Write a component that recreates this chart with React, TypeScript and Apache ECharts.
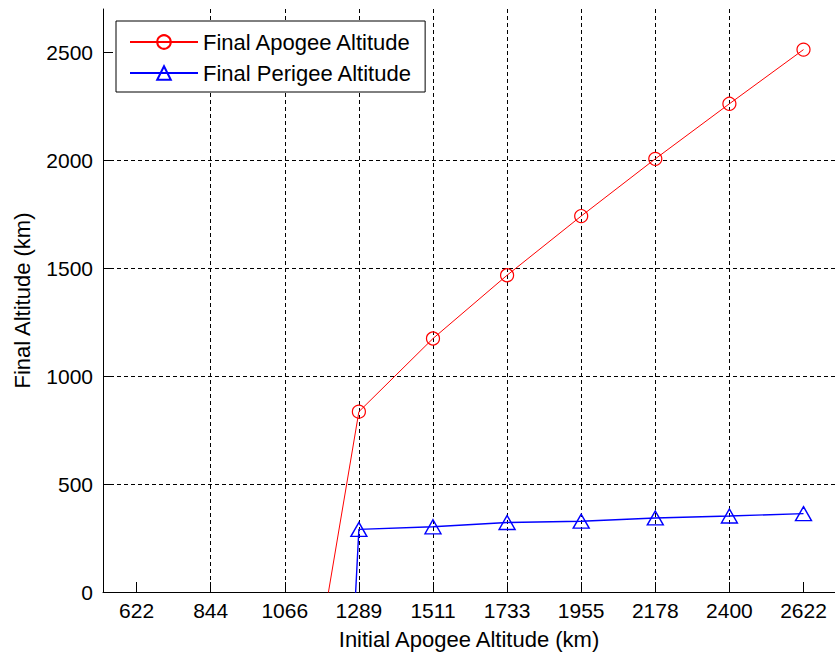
import React, { useEffect, useRef } from "react";
import * as echarts from "echarts";

const categories = ["622", "844", "1066", "1289", "1511", "1733", "1955", "2178", "2400", "2622"];
const apogeeValues: (number | null)[] = [null, null, -1200, 835, 1174, 1467, 1741, 2006, 2261, 2512];
const perigeeValues: (number | null)[] = [null, null, -6378, 290, 302, 322, 328, 343, 352, 363];
const yTickValues = [0, 500, 1000, 1500, 2000, 2500];
const seriesNames = ["Final Apogee Altitude", "Final Perigee Altitude"];

const FONT = "'Liberation Sans', Arial, Helvetica, sans-serif";

function toPoints(vals: (number | null)[]) {
  const pts: [number, number][] = [];
  vals.forEach((v, i) => {
    if (v !== null) pts.push([i + 1, v]);
  });
  return pts;
}

export default function App() {
  const ref = useRef<HTMLDivElement>(null);
  useEffect(() => {
    if (!ref.current) return;
    const chart = echarts.init(ref.current, undefined, { renderer: "svg" });
    const xIdx = categories.map((_, i) => i + 1);
    const option: any = {
      animation: false,
      backgroundColor: "#fff",
      textStyle: { fontFamily: FONT },
      grid: { left: 103, top: 9, width: 737, height: 583, containLabel: false },
      legend: {
        data: seriesNames,
        orient: "vertical",
        left: 116,
        top: 21,
        backgroundColor: "#fff",
        borderColor: "#000",
        borderWidth: 1,
        borderRadius: 0,
        padding: [9, 13, 7, 13],
        itemGap: 7,
        itemWidth: 68,
        itemHeight: 17,
        selectedMode: false,
        textStyle: { fontSize: 22, fontFamily: FONT, color: "#000", lineHeight: 24 },
      },
      xAxis: {
        type: "value",
        min: 0.547,
        max: 10.425,
        minInterval: 1,
        maxInterval: 1,
        name: "Initial Apogee Altitude (km)",
        nameLocation: "middle",
        nameGap: 36,
        nameTextStyle: { fontSize: 22, color: "#000", fontFamily: FONT },
        axisLine: { show: true, onZero: false, lineStyle: { color: "#000", width: 1 } },
        axisTick: { show: true, inside: true, length: 10, customValues: xIdx, lineStyle: { color: "#000" } },
        axisLabel: {
          customValues: xIdx,
          margin: 8,
          fontSize: 21,
          color: "#000",
          fontFamily: FONT,
          formatter: (v: number) => {
            const i = Math.round(v);
            return Math.abs(v - i) < 1e-6 && i >= 1 && i <= categories.length ? categories[i - 1] : "";
          },
        },
        splitLine: {
          show: true,
          showMinLine: false,
          showMaxLine: false,
          lineStyle: { color: "#000", width: 1, type: [4, 3] },
        },
      },
      yAxis: {
        type: "value",
        min: 0,
        max: 2700,
        interval: 500,
        name: "Final Altitude (km)",
        nameLocation: "middle",
        nameGap: 70,
        nameTextStyle: { fontSize: 22, color: "#000", fontFamily: FONT },
        axisLine: { show: true, onZero: false, lineStyle: { color: "#000", width: 1 } },
        axisTick: { show: true, inside: true, length: 10, customValues: yTickValues, lineStyle: { color: "#000" } },
        axisLabel: {
          customValues: yTickValues,
          margin: 10,
          fontSize: 21,
          color: "#000",
          fontFamily: FONT,
          formatter: (v: number) => (v % 500 === 0 ? String(v) : ""),
        },
        splitLine: {
          show: true,
          showMinLine: false,
          showMaxLine: false,
          lineStyle: { color: "#000", width: 1, type: [4, 3] },
        },
      },
      series: [
        {
          name: seriesNames[0],
          type: "line",
          data: toPoints(apogeeValues),
          clip: true,
          symbol: "circle",
          symbolSize: 13,
          showAllSymbol: true,
          color: "#ff0000",
          lineStyle: { color: "#ff0000", width: 1 },
          itemStyle: { color: "rgba(0,0,0,0)", borderColor: "#ff0000", borderWidth: 1.2 },
          emphasis: { disabled: true },
        },
        {
          name: seriesNames[1],
          type: "line",
          data: toPoints(perigeeValues),
          clip: true,
          symbol: "triangle",
          symbolSize: [16, 14],
          showAllSymbol: true,
          color: "#0000ff",
          lineStyle: { color: "#0000ff", width: 1.4 },
          itemStyle: { color: "rgba(0,0,0,0)", borderColor: "#0000ff", borderWidth: 1.4 },
          emphasis: { disabled: true },
        },
      ],
    };
    chart.setOption(option);
    return () => chart.dispose();
  }, []);
  return (
    <div
      ref={ref}
      style={{ position: "absolute", left: 0, top: 0, width: 835, height: 656, background: "#fff" }}
    />
  );
}
